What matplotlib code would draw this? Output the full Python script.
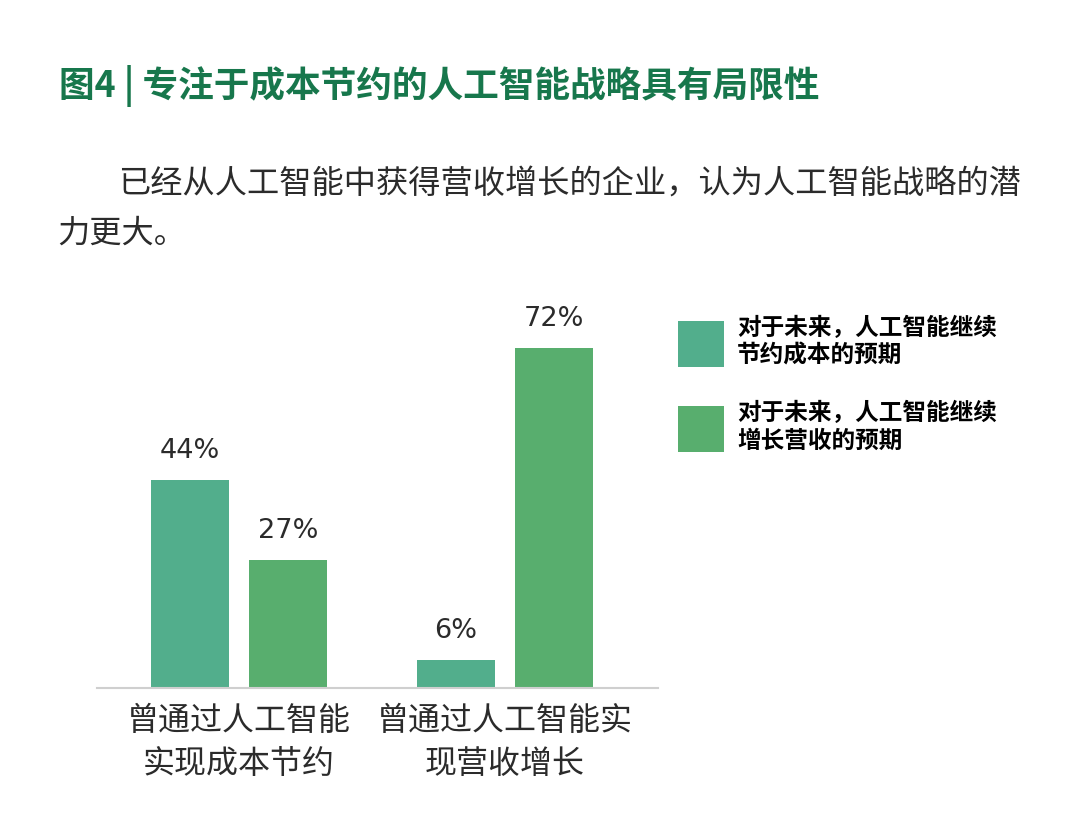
import numpy as np
import matplotlib.pyplot as plt

plt.rcParams['font.family'] = ['Noto Sans CJK SC', 'DejaVu Sans']

categories = ['曾通过人工智能\n实现成本节约', '曾通过人工智能实\n现营收增长']
cost_saving = [44, 6]
revenue_growth = [27, 72]
series_names = ['对于未来，人工智能继续\n节约成本的预期', '对于未来，人工智能继续\n增长营收的预期']

title = '图4 | 专注于成本节约的人工智能战略具有局限性'
subtitle1 = '已经从人工智能中获得营收增长的企业，认为人工智能战略的潜'
subtitle2 = '力更大。'

teal = '#52AE8C'
green = '#58AE6E'
dark_green = '#17774C'
text_gray = '#2b2b2b'

fig = plt.figure(figsize=(10.8, 8.23), dpi=100)
ax = fig.add_axes([0.0898, 0.164, 0.5194, 0.4594])

x = np.arange(len(categories))
w = 0.293
off = 0.184
b1 = ax.bar(x - off, cost_saving, w, color=teal)
b2 = ax.bar(x + off, revenue_growth, w, color=green)

for bars, vals in [(b1, cost_saving), (b2, revenue_growth)]:
    for rect, v in zip(bars, vals):
        ax.annotate(f'{v}%', (rect.get_x() + rect.get_width() / 2, v),
                    xytext=(0, 21), textcoords='offset points',
                    ha='center', va='center', fontsize=19.5, color=text_gray,
                    family=['DejaVu Sans'])

ax.set_xlim(-0.534, 1.575)
ax.set_ylim(0, 80)
ax.set_xticks(x)
ax.set_xticklabels(categories, fontsize=23, color=text_gray, linespacing=1.45)
ax.tick_params(axis='x', length=0, pad=12)
ax.set_yticks([])
for s in ['top', 'right', 'left']:
    ax.spines[s].set_visible(False)
ax.spines['bottom'].set_color('#cfcfcf')
ax.spines['bottom'].set_linewidth(1.5)

fig.legend([b1, b2], series_names, loc='upper left',
           bbox_to_anchor=(0.608, 0.642), frameon=False,
           prop={'family': 'Noto Sans CJK SC', 'weight': 'bold', 'size': 17},
           handlelength=1.95, handleheight=2.6, handletextpad=0.55,
           labelspacing=1.4)

fig.text(0.055, 0.895, title, fontsize=25.7, fontweight='bold', color=dark_green,
         va='center', ha='left')
fig.text(0.109, 0.776, subtitle1, fontsize=23.2, color=text_gray, va='center', ha='left')
fig.text(0.053, 0.716, subtitle2, fontsize=23.2, color=text_gray, va='center', ha='left')

fig.savefig('out.png', dpi=100, facecolor='white')
